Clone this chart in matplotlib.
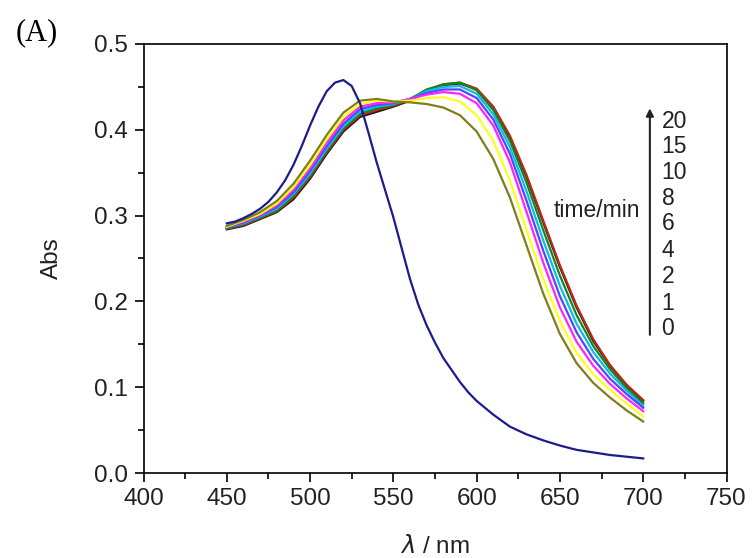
import matplotlib
matplotlib.use("Agg")
import matplotlib.pyplot as plt
from matplotlib.ticker import MultipleLocator

plt.rcParams['font.family'] = ['Liberation Sans', 'DejaVu Sans']

# ---- data -------------------------------------------------------------
wl_0 = [450, 455, 460, 465, 470, 475, 480, 485, 490, 495, 500, 505, 510, 515,
        520, 525, 530, 535, 540, 545, 550, 555, 560, 565, 570, 575, 580, 585,
        590, 595, 600, 605, 610, 620, 630, 640, 650, 660, 670, 680, 690, 700]
abs_0 = [0.291, 0.293, 0.297, 0.302, 0.308, 0.316, 0.327, 0.341, 0.359, 0.381,
         0.405, 0.427, 0.445, 0.455, 0.458, 0.451, 0.431, 0.397, 0.362, 0.330,
         0.298, 0.262, 0.226, 0.196, 0.172, 0.152, 0.134, 0.120, 0.106, 0.094,
         0.084, 0.076, 0.068, 0.054, 0.045, 0.038, 0.032, 0.027, 0.024, 0.021,
         0.019, 0.017]

wl = [450, 460, 470, 480, 490, 500, 510, 520, 530, 540, 550, 560, 570, 580,
      590, 600, 610, 620, 630, 640, 650, 660, 670, 680, 690, 700]
abs_1 = [0.288, 0.295, 0.304, 0.317, 0.337, 0.364, 0.394, 0.420, 0.434, 0.436,
         0.433, 0.432, 0.430, 0.426, 0.417, 0.398, 0.366, 0.321, 0.265, 0.209,
         0.162, 0.128, 0.105, 0.088, 0.073, 0.060]
abs_2 = [0.287, 0.294, 0.302, 0.314, 0.333, 0.359, 0.389, 0.415, 0.430, 0.434,
         0.433, 0.434, 0.437, 0.438, 0.433, 0.417, 0.387, 0.341, 0.283, 0.226,
         0.177, 0.140, 0.115, 0.097, 0.081, 0.066]
abs_4 = [0.287, 0.293, 0.301, 0.312, 0.330, 0.355, 0.385, 0.411, 0.427, 0.431,
         0.432, 0.436, 0.441, 0.444, 0.442, 0.431, 0.405, 0.362, 0.304, 0.245,
         0.193, 0.153, 0.125, 0.104, 0.087, 0.072]
abs_6 = [0.286, 0.292, 0.300, 0.310, 0.327, 0.352, 0.381, 0.407, 0.424, 0.429,
         0.431, 0.436, 0.443, 0.447, 0.447, 0.437, 0.412, 0.372, 0.317, 0.259,
         0.206, 0.164, 0.133, 0.110, 0.092, 0.076]
abs_8 = [0.286, 0.291, 0.299, 0.308, 0.325, 0.349, 0.378, 0.404, 0.421, 0.427,
         0.430, 0.436, 0.445, 0.450, 0.451, 0.442, 0.418, 0.380, 0.328, 0.271,
         0.218, 0.174, 0.141, 0.116, 0.096, 0.078]
abs_10 = [0.285, 0.290, 0.298, 0.306, 0.323, 0.347, 0.376, 0.402, 0.419, 0.425,
          0.429, 0.436, 0.447, 0.453, 0.455, 0.446, 0.423, 0.387, 0.338, 0.283,
          0.230, 0.184, 0.148, 0.121, 0.099, 0.081]
abs_15 = [0.285, 0.289, 0.297, 0.305, 0.321, 0.345, 0.374, 0.400, 0.417, 0.423,
          0.428, 0.435, 0.446, 0.453, 0.455, 0.448, 0.427, 0.393, 0.347, 0.294,
          0.242, 0.195, 0.156, 0.126, 0.103, 0.085]
abs_20 = [0.284, 0.288, 0.296, 0.304, 0.319, 0.343, 0.372, 0.398, 0.415, 0.421,
          0.427, 0.434, 0.445, 0.452, 0.454, 0.447, 0.426, 0.391, 0.345, 0.292,
          0.240, 0.193, 0.154, 0.125, 0.102, 0.084]

time_labels = ['20', '15', '10', '8', '6', '4', '2', '1', '0']

colors = {
    '0': '#1c1c8a', '1': '#7f7f1a', '2': '#ffff1a', '4': '#ff22ff',
    '6': '#4a4aff', '8': '#10b8f0', '10': '#11881a', '15': '#c0281a',
    '20': '#1a1a1a',
}

# ---- figure -----------------------------------------------------------
fig = plt.figure(figsize=(7.52, 5.58), dpi=100)
ax = fig.add_axes([143.5 / 752, 1 - 473 / 558, 583 / 752, 429 / 558])

lw = 1.6
series = [('20', abs_20), ('15', abs_15), ('10', abs_10), ('8', abs_8),
          ('6', abs_6), ('4', abs_4), ('2', abs_2), ('1', abs_1)]
for key, ys in series:
    ax.plot(wl, ys, color=colors[key], lw=lw, solid_joinstyle='round')
ax.plot(wl_0, abs_0, color=colors['0'], lw=lw, solid_joinstyle='round')

ax.set_xlim(400, 750)
ax.set_ylim(0.0, 0.5)
ax.xaxis.set_major_locator(MultipleLocator(50))
ax.xaxis.set_minor_locator(MultipleLocator(25))
ax.yaxis.set_major_locator(MultipleLocator(0.1))
ax.yaxis.set_minor_locator(MultipleLocator(0.05))
ax.yaxis.set_major_formatter(plt.FuncFormatter(lambda v, p: f'{v:.1f}'))

for s in ax.spines.values():
    s.set_linewidth(1.2)
ax.tick_params(which='major', direction='out', length=6.5, width=1.2,
               labelsize=17.5, pad=4, top=False, right=False,
               labelcolor='#222222')
ax.tick_params(which='minor', direction='out', length=4, width=1.2,
               top=False, right=False)
ax.tick_params(axis='y', which='major', pad=5)

ax.set_ylabel('Abs', fontsize=17.5, color='#222222')
ax.yaxis.set_label_coords(-0.138, 0.5)
ax.set_xlabel(r'$\lambda$ / nm', fontsize=17.5, color='#222222')
ax.xaxis.set_label_coords(0.5, -0.145)

# time arrow and labels
ax.annotate('', xy=(704, 0.425), xytext=(704, 0.161),
            arrowprops=dict(arrowstyle='-|>', color='#222222', lw=1.5,
                            mutation_scale=11, shrinkA=0, shrinkB=0))
label_y = [0.4094, 0.380, 0.350, 0.320, 0.291, 0.259, 0.229, 0.198, 0.168]
for t, yv in zip(time_labels, label_y):
    ax.text(711, yv, t, fontsize=16.5, va='center', ha='left', color='#222222')
ax.text(698, 0.3065, 'time/min', fontsize=16.5, va='center', ha='right',
        color='#222222')

fig.text(37 / 752, 1 - 33 / 558, '(A)', fontsize=22, ha='center', va='center',
         family=['Liberation Serif', 'DejaVu Serif'])

fig.savefig('out.png', dpi=100)
